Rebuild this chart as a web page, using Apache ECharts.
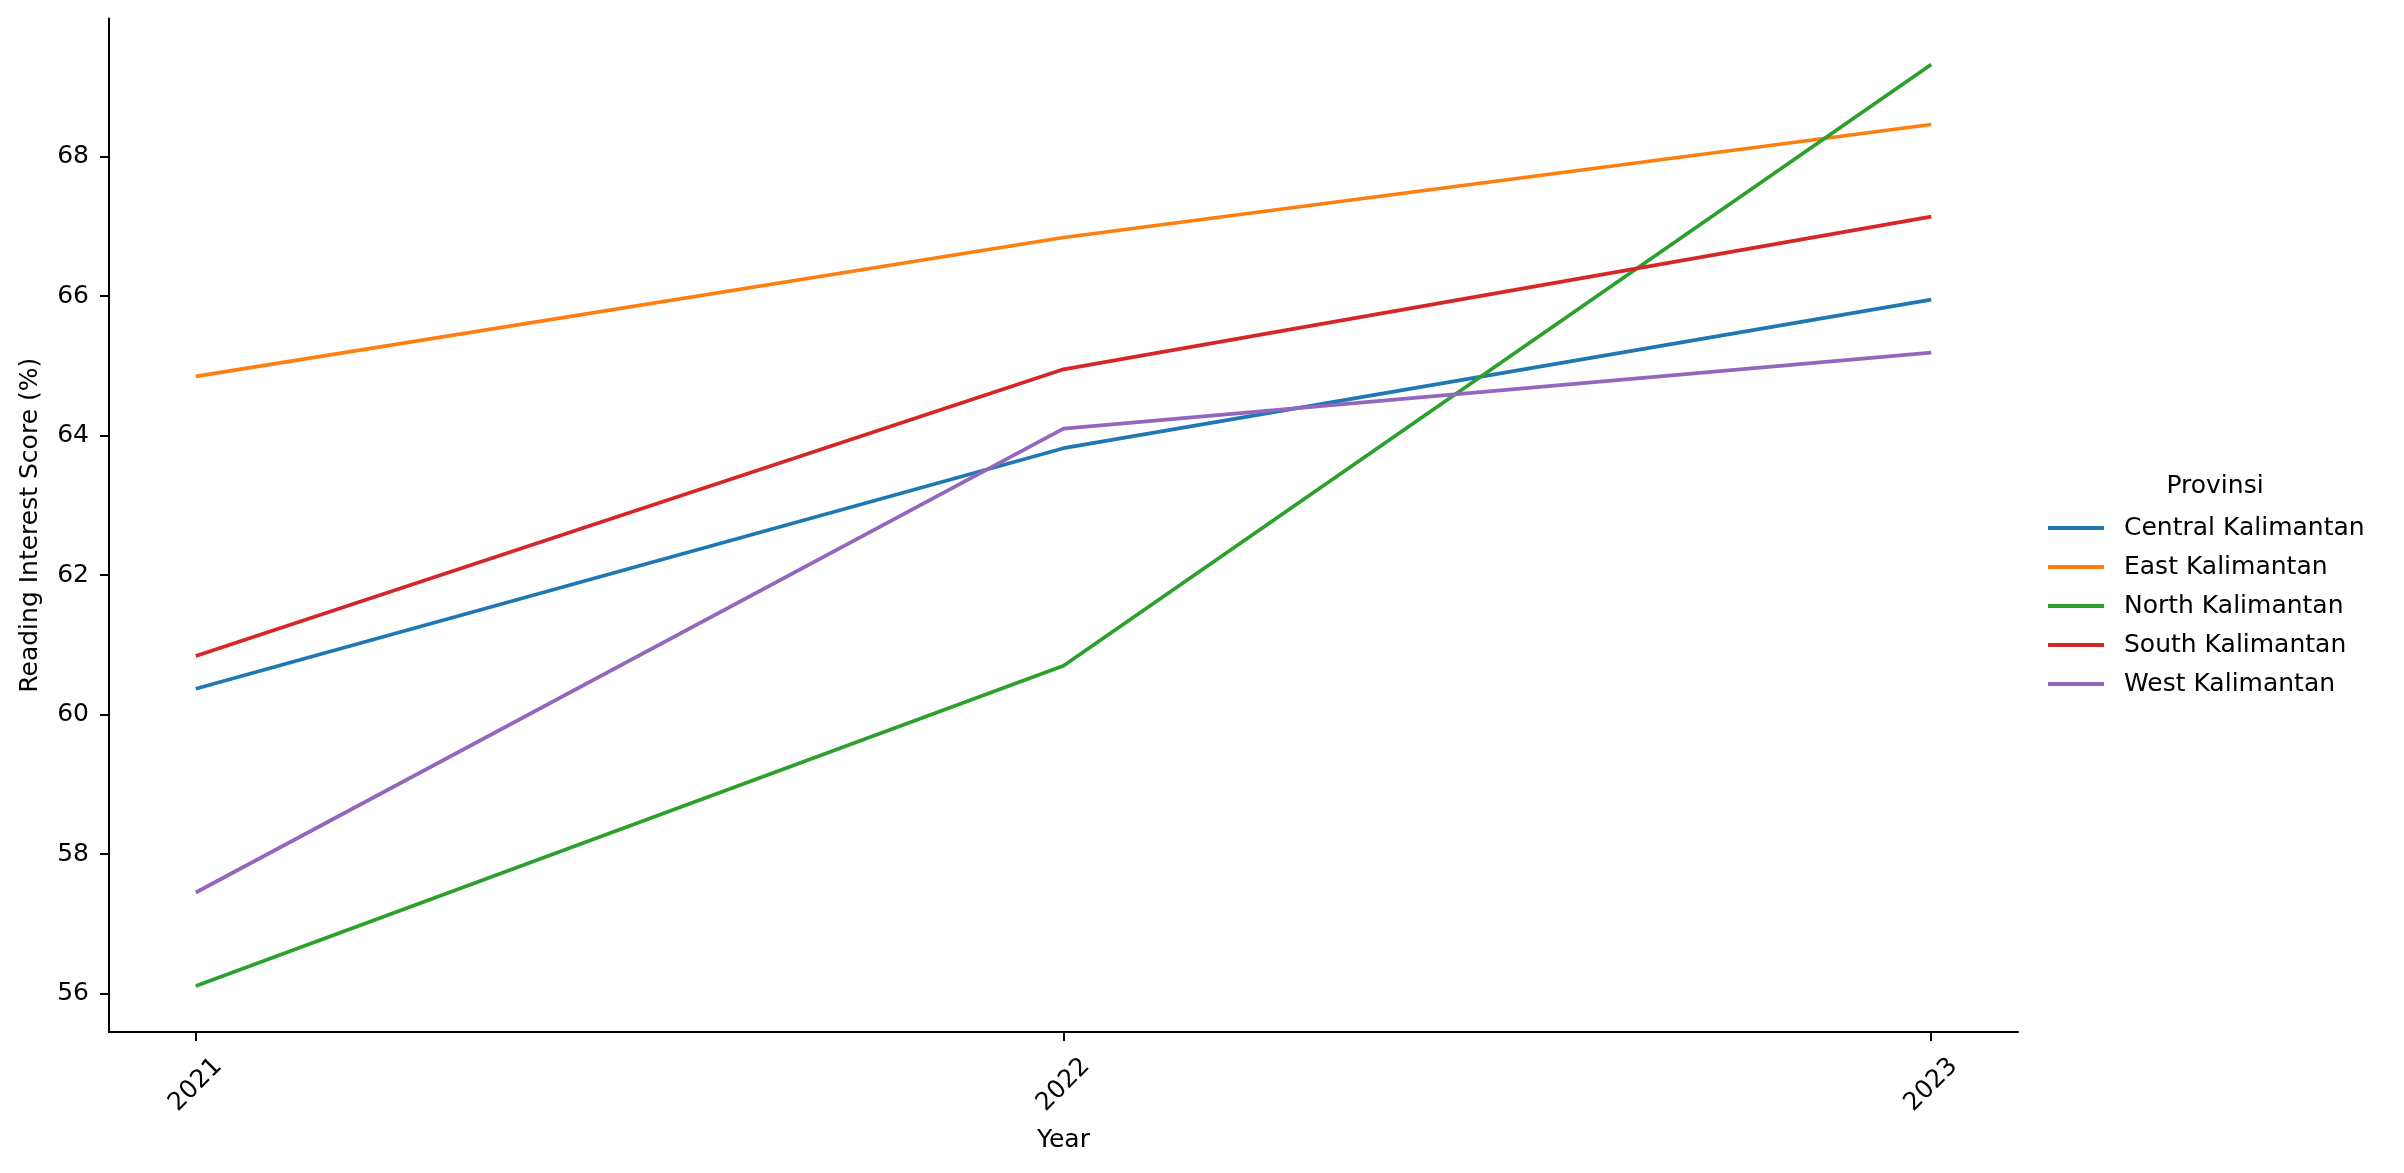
<!DOCTYPE html>
<html>
<head>
<meta charset="utf-8">
<script src="https://cdn.jsdelivr.net/npm/echarts@6/dist/echarts.min.js"></script>
<style>html,body{margin:0;padding:0;background:#fff}#c{width:2404px;height:1173px}</style>
</head>
<body>
<div id="c"></div>
<script>
const years = [2021, 2022, 2023];
const provinces = ['Central Kalimantan', 'East Kalimantan', 'North Kalimantan', 'South Kalimantan', 'West Kalimantan'];
const centralKalimantan = [60.37, 63.82, 65.95];
const eastKalimantan = [64.85, 66.84, 68.46];
const northKalimantan = [56.11, 60.70, 69.32];
const southKalimantan = [60.84, 64.95, 67.14];
const westKalimantan = [57.45, 64.10, 65.19];
const yTicks = [56, 58, 60, 62, 64, 66, 68];
const colors = ['#1f77b4', '#ff7f0e', '#2ca02c', '#d62728', '#9467bd'];

const seriesValues = [centralKalimantan, eastKalimantan, northKalimantan, southKalimantan, westKalimantan];
const font = 'DejaVu Sans';

const chart = echarts.init(document.getElementById('c'), null, {renderer: 'canvas'});
chart.setOption({
  animation: false,
  backgroundColor: '#fff',
  color: colors,
  textStyle: {fontFamily: font},
  grid: {left: 109, right: 386, top: 18.5, bottom: 141, containLabel: false},
  xAxis: {
    type: 'value',
    min: 2020.9,
    max: 2023.1,
    name: 'Year',
    nameLocation: 'middle',
    nameGap: 96,
    nameTextStyle: {color: '#000', fontSize: 25, fontFamily: font},
    axisLine: {show: true, onZero: false, lineStyle: {color: '#000', width: 2}},
    axisTick: {show: true, length: 9, lineStyle: {color: '#000', width: 2}, customValues: years},
    axisLabel: {
      color: '#000', fontSize: 25, fontFamily: font, rotate: 45, margin: 53,
      align: 'center', verticalAlign: 'middle',
      customValues: years,
      formatter: v => String(v)
    },
    splitLine: {show: false}
  },
  yAxis: {
    type: 'value',
    min: 55.45,
    max: 69.98,
    name: 'Reading Interest Score (%)',
    nameLocation: 'middle',
    nameGap: 66,
    nameRotate: 90,
    nameTextStyle: {color: '#000', fontSize: 25, fontFamily: font},
    axisLine: {show: true, onZero: false, lineStyle: {color: '#000', width: 2}},
    axisTick: {show: true, length: 9, lineStyle: {color: '#000', width: 2}, customValues: yTicks},
    axisLabel: {color: '#000', fontSize: 25, fontFamily: font, margin: 20, customValues: yTicks, formatter: v => String(v)},
    splitLine: {show: false}
  },
  legend: {
    orient: 'vertical',
    left: 2043,
    top: 510,
    icon: 'rect',
    itemWidth: 56,
    itemHeight: 4,
    itemGap: 13,
    textStyle: {color: '#000', fontSize: 25, fontFamily: font, lineHeight: 26, padding: [0, 0, 0, 15]},
    data: provinces
  },
  graphic: [{
    type: 'text',
    x: 2215,
    y: 486,
    style: {text: 'Provinsi', fill: '#000', font: '25px "DejaVu Sans"', textAlign: 'center', textVerticalAlign: 'middle'}
  }],
  series: provinces.map((p, i) => ({
    name: p,
    type: 'line',
    showSymbol: false,
    symbol: 'none',
    lineStyle: {width: 3.7, color: colors[i]},
    itemStyle: {color: colors[i]},
    data: years.map((y, j) => [y, seriesValues[i][j]])
  }))
});
</script>
</body>
</html>
